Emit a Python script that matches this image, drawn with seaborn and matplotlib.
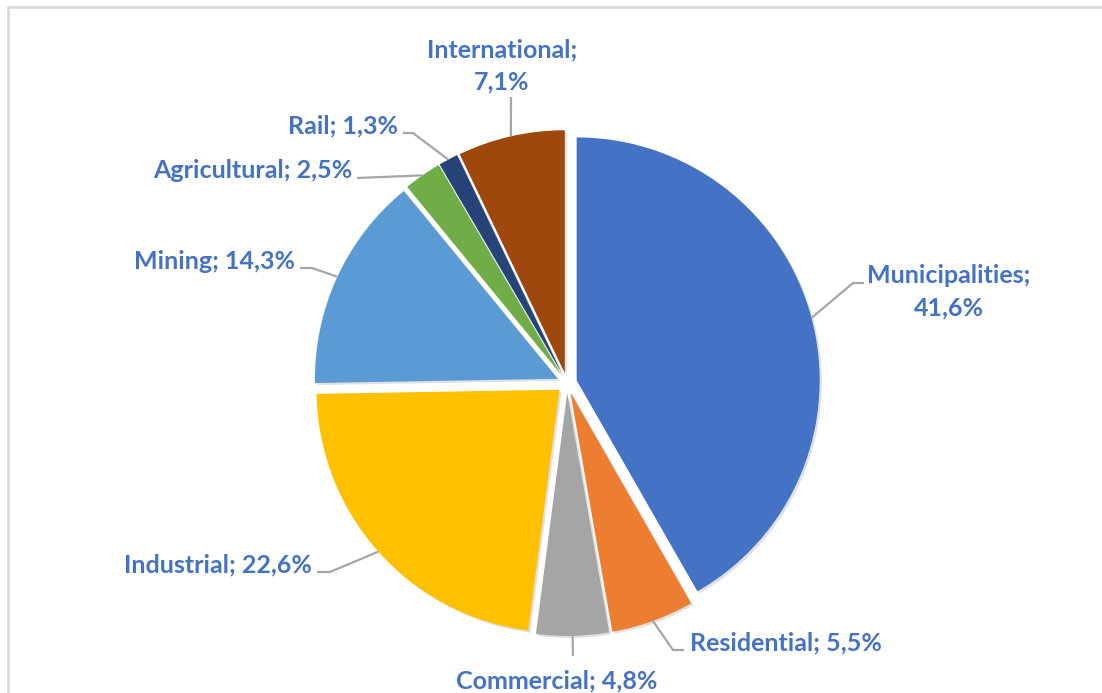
import matplotlib
matplotlib.use("Agg")
import math
import matplotlib.pyplot as plt
import seaborn as sns
from matplotlib import patheffects as pe
from matplotlib.lines import Line2D

# Share of consumption by sector (%)
categories = ["Municipalities", "Residential", "Commercial", "Industrial",
              "Mining", "Agricultural", "Rail", "International"]
shares = [41.6, 5.5, 4.8, 22.6, 14.3, 2.5, 1.3, 7.1]
colors = ["#4472C4", "#ED7D31", "#A5A5A5", "#FFC000",
          "#5B9BD5", "#70AD47", "#264478", "#9E480E"]

W, H = 1102, 693

# Label layout in pixel space (y measured from top):
# text x, first baseline, horizontal alignment, wrap after ";", elbow, line end
label_layout = {
    "Municipalities": (949, 283, "center", True, (853, 283), (864, 283)),
    "Residential":    (690, 650, "left", False, (673, 650), (684, 650)),
    "Commercial":     (557, 688, "center", False, None, (573, 656)),
    "Industrial":     (312, 572, "right", False, (330, 572), (317, 572)),
    "Mining":         (295, 269, "right", False, (312, 268), (300, 268)),
    "Agricultural":   (352, 178, "right", False, None, (357, 178)),
    "Rail":           (398, 133, "right", False, (413, 133), (403, 133)),
    "International":  (502, 57, "center", True, None, (511, 97)),
}

sns.set_theme(style="white")
plt.rcParams["font.family"] = ["Lato", "DejaVu Sans"]

fig = plt.figure(figsize=(W / 100, H / 100), dpi=100)
fig.patch.set_facecolor("white")
ax = fig.add_axes([0, 0, 1, 1])

def fy(y):
    return H - y

shadow = [pe.SimplePatchShadow(offset=(1.5, -1.5), shadow_rgbFace="#000000", alpha=0.12),
          pe.Normal()]

wedges, _ = ax.pie(shares, colors=colors, startangle=90, counterclock=False,
                   radius=243, center=(567, fy(383)), explode=[10] * len(shares),
                   wedgeprops=dict(linewidth=0, path_effects=shadow))

ax.set_xlim(0, W)
ax.set_ylim(0, H)
ax.set_aspect("equal")
ax.axis("off")

text_color = "#4472C4"
line_color = "#A6A6A6"

for w, name, val in zip(wedges, categories, shares):
    tx, ty, ha, wrap, elbow, end = label_layout[name]
    mid = math.radians(0.5 * (w.theta1 + w.theta2))
    cx, cy = w.center
    anchor = (cx + w.r * math.cos(mid), cy + w.r * math.sin(mid))
    pts = [anchor]
    if elbow is not None:
        pts.append((elbow[0], fy(elbow[1])))
    pts.append((end[0], fy(end[1])))
    ax.plot([p[0] for p in pts], [p[1] for p in pts], color=line_color,
            lw=1.6, solid_capstyle="butt", zorder=1)

    pct = f"{val:.1f}%".replace(".", ",")
    lines = [f"{name};", pct] if wrap else [f"{name}; {pct}"]
    for i, line in enumerate(lines):
        ax.text(tx, fy(ty + 32 * i), line, ha=ha, va="baseline",
                fontsize=18, fontweight="bold", color=text_color)

# light chart-area frame
frame = dict(transform=fig.transFigure, color="#D9D9D9", lw=2)
fig.add_artist(Line2D([8 / W, 8 / W], [0, 1 - 7 / H], **frame))
fig.add_artist(Line2D([8 / W, 1], [1 - 7 / H, 1 - 7 / H], **frame))

fig.savefig("out.png", dpi=100, facecolor="white")
